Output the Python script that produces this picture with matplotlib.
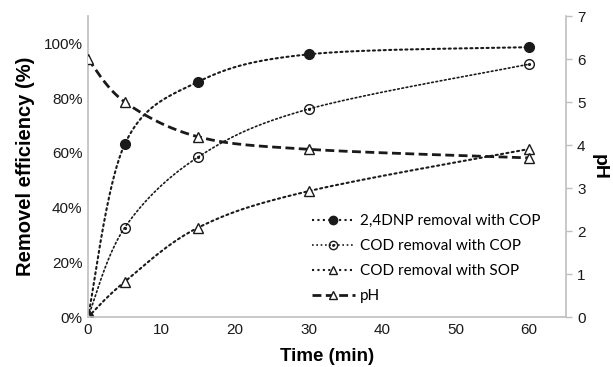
import numpy as np
import matplotlib
matplotlib.use("Agg")
import matplotlib.pyplot as plt
from matplotlib.path import Path
from matplotlib.lines import Line2D

# data
time = [0, 5, 15, 30, 60]
dnp_cop = [0.0, 0.632, 0.86, 0.96, 0.986]
cod_cop = [0.0, 0.327, 0.585, 0.76, 0.924]
cod_sop = [0.0, 0.129, 0.327, 0.46, 0.614]
ph = [6.0, 5.0, 4.19, 3.9, 3.7]

labels = ["2,4DNP removal with COP", "COD removal with COP",
          "COD removal with SOP", "pH"]
pct_ticks = [0, 0.2, 0.4, 0.6, 0.8, 1.0]
pct_labels = ["0%", "20%", "40%", "60%", "80%", "100%"]


def smooth(x, y, n=40):
    # Excel style smoothed line: Catmull-Rom segments drawn as cubic Bezier
    x = np.asarray(x, float)
    y = np.asarray(y, float)
    px = np.concatenate([[x[0]], x, [x[-1]]])
    py = np.concatenate([[y[0]], y, [y[-1]]])
    xs, ys = [], []
    t = np.linspace(0, 1, n)[:, None]
    for i in range(1, len(px) - 2):
        p0 = np.array([px[i], py[i]])
        p3 = np.array([px[i + 1], py[i + 1]])
        p1 = p0 + (np.array([px[i + 1], py[i + 1]]) - np.array([px[i - 1], py[i - 1]])) / 6
        p2 = p3 - (np.array([px[i + 2], py[i + 2]]) - np.array([px[i], py[i]])) / 6
        b = ((1 - t) ** 3) * p0 + 3 * ((1 - t) ** 2) * t * p1 + 3 * (1 - t) * t ** 2 * p2 + t ** 3 * p3
        xs.append(b[:, 0])
        ys.append(b[:, 1])
    return np.concatenate(xs), np.concatenate(ys)


odot = Path.make_compound_path(Path.unit_circle(), Path.circle((0, 0), 0.18))

plt.rcParams['font.family'] = ['Liberation Sans', 'DejaVu Sans']

fig = plt.figure(figsize=(6.13, 3.67), dpi=100)
ax = fig.add_axes([0.1436, 0.1362, 0.7797, 0.8202])
ax2 = ax.twinx()

dot = (0, (1, 1.6))
dash = (0, (3.2, 1.6))
k = '#1a1a1a'

sx, sy = smooth(time, dnp_cop)
ax.plot(sx, sy, color=k, lw=1.5, ls=dot, dash_capstyle='round')
ax.plot(time, dnp_cop, ls='none', marker='o', ms=7, color=k)

sx, sy = smooth(time, cod_cop)
ax.plot(sx, sy, color=k, lw=1.2, ls=dot, dash_capstyle='round')
ax.plot(time, cod_cop, ls='none', marker=odot, ms=7, mfc='none', mec=k, mew=1.0)

sx, sy = smooth(time, cod_sop)
ax.plot(sx, sy, color=k, lw=1.5, ls=dot, dash_capstyle='round')
ax.plot(time, cod_sop, ls='none', marker='^', ms=7, mfc='white', mec=k, mew=1.0)

sx, sy = smooth(time, ph)
ax2.plot(sx, sy, color=k, lw=2.0, ls=dash)
ax2.plot(time, ph, ls='none', marker='^', ms=7, mfc='white', mec=k, mew=1.0)

ax.set_xlim(0, 65)
ax.set_ylim(0, 1.1)
ax2.set_ylim(0, 7)
ax.set_xticks([0, 10, 20, 30, 40, 50, 60])
ax.set_yticks(pct_ticks)
ax.set_yticklabels(pct_labels)
ax2.set_yticks(range(8))

for a in (ax, ax2):
    for s in a.spines.values():
        s.set_color('#bfbfbf')
        s.set_linewidth(1.2)
    a.spines['top'].set_visible(False)
ax.spines['right'].set_visible(False)
ax2.spines['left'].set_visible(False)
ax2.spines['bottom'].set_visible(False)

ax.tick_params(axis='both', length=0, labelsize=11, colors='#1a1a1a', pad=4)
ax2.tick_params(axis='y', length=4, width=1, color='#bfbfbf', labelsize=11,
                labelcolor='#1a1a1a', pad=4)

ax.set_xlabel("Time (min)", fontsize=13.5, fontweight='bold', labelpad=8)
ax.set_ylabel("Removel efficiency (%)", fontsize=14.5, fontweight='bold', labelpad=6)
ax2.set_ylabel("pH", fontsize=14, fontweight='bold', rotation=-90, labelpad=16)

handles = [
    Line2D([], [], color=k, lw=1.5, ls=dot, marker='o', ms=6),
    Line2D([], [], color=k, lw=1.2, ls=dot, marker=odot, ms=6, mfc='none', mew=1.0),
    Line2D([], [], color=k, lw=1.5, ls=dot, marker='^', ms=6, mfc='white', mew=1.0),
    Line2D([], [], color=k, lw=2.0, ls=dash, marker='^', ms=6, mfc='white', mew=1.0),
]
ax2.legend(handles, labels, loc='lower left', bbox_to_anchor=(0.44, 0.0),
           frameon=False, handlelength=2.8, handletextpad=0.35, labelspacing=0.72,
           prop={'family': ['Lato', 'DejaVu Sans'], 'size': 11})

fig.savefig("out.png", dpi=100)
